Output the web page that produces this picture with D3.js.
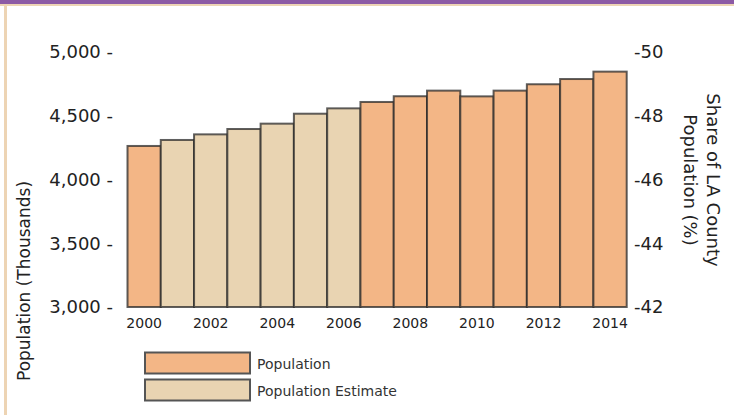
<!DOCTYPE html>
<meta charset="utf-8">
<head>
    <title>Population and Share of LA County</title>
</head>
<style>
body { margin: 0; background: #fff; }
text { font-family: "DejaVu Sans", Verdana, sans-serif; fill: #222; }
</style>

<script src="https://d3js.org/d3.v7.min.js"></script>

<div id="chart"></div>

<script>
// data
var years = [2000, 2001, 2002, 2003, 2004, 2005, 2006, 2007, 2008, 2009, 2010, 2011, 2012, 2013, 2014];
var population = [4263, 4310, 4354, 4396, 4438, 4516, 4558, 4608, 4653, 4697, 4652, 4697, 4747, 4788, 4846];
var kind = ['Population', 'Population Estimate', 'Population Estimate', 'Population Estimate', 'Population Estimate',
            'Population Estimate', 'Population Estimate', 'Population', 'Population', 'Population', 'Population',
            'Population', 'Population', 'Population', 'Population'];
var leftTicks = [3000, 3500, 4000, 4500, 5000];
var rightTicks = [42, 44, 46, 48, 50];
var xLabels = [2000, 2002, 2004, 2006, 2008, 2010, 2012, 2014];
var legendItems = ['Population', 'Population Estimate'];

var width = 734, height = 415;
var colors = {'Population': '#F3B686', 'Population Estimate': '#E9D4B2'};

var svg = d3.select("#chart")
  .append("svg")
    .attr("width", width)
    .attr("height", height);

// page frame
svg.append("rect").attr("x", 0).attr("y", 0).attr("width", width).attr("height", 4).attr("fill", "#8C5AA5");
svg.append("rect").attr("x", 0).attr("y", 4).attr("width", width).attr("height", 2).attr("fill", "#EDD4B4");
svg.append("rect").attr("x", 4).attr("y", 4).attr("width", 3).attr("height", height).attr("fill", "#EDD4B4");

var x = d3.scaleBand()
    .domain(years)
    .range([127.5, 626.7])
    .padding(0);

var y = d3.scaleLinear()
    .domain([3000, 5000])
    .range([307, 52]);

var y2 = d3.scaleLinear()
    .domain([42, 50])
    .range([307, 52]);

var data = years.map(function(d, i) { return {year: d, value: population[i], kind: kind[i]}; });

// bars
svg.selectAll("bar")
    .data(data)
    .enter()
    .append("rect")
    .attr("x", function(d) { return x(d.year); })
    .attr("y", function(d) { return y(d.value); })
    .attr("width", x.bandwidth())
    .attr("height", function(d) { return y(3000) - y(d.value); })
    .attr("fill", function(d) { return colors[d.kind]; })
    .attr("stroke", "#2a2a2a")
    .attr("stroke-opacity", 0.75)
    .attr("stroke-width", 2);

// left axis (labels carry their own dash)
svg.selectAll("ltick")
    .data(leftTicks)
    .enter()
    .append("text")
    .attr("x", 113)
    .attr("y", function(d) { return y(d); })
    .attr("dy", "0.36em")
    .attr("text-anchor", "end")
    .style("font-size", "18px")
    .text(function(d) { return d3.format(",")(d) + " -"; });

// right axis
svg.selectAll("rtick")
    .data(rightTicks)
    .enter()
    .append("text")
    .attr("x", 634)
    .attr("y", function(d) { return y2(d); })
    .attr("dy", "0.36em")
    .attr("text-anchor", "start")
    .style("font-size", "18px")
    .text(function(d) { return "-" + d; });

// x labels
svg.selectAll("xtick")
    .data(xLabels)
    .enter()
    .append("text")
    .attr("x", function(d) { return x(d) + x.bandwidth() / 2; })
    .attr("y", 328)
    .attr("text-anchor", "middle")
    .style("font-size", "14px")
    .text(function(d) { return d; });

// axis titles
svg.append("text")
    .attr("transform", "translate(30,281)rotate(-90)")
    .attr("text-anchor", "middle")
    .style("font-size", "17px")
    .text("Population (Thousands)");

svg.append("text")
    .attr("transform", "translate(707,180)rotate(90)")
    .attr("text-anchor", "middle")
    .style("font-size", "18px")
    .text("Share of LA County");

svg.append("text")
    .attr("transform", "translate(684,180)rotate(90)")
    .attr("text-anchor", "middle")
    .style("font-size", "18px")
    .text("Population (%)");

// legend
var legend = svg.selectAll("legend")
    .data(legendItems)
    .enter()
    .append("g")
    .attr("transform", function(d, i) { return "translate(145," + (352.5 + i * 27) + ")"; });

legend.append("rect")
    .attr("width", 105)
    .attr("height", 21)
    .attr("fill", function(d) { return colors[d]; })
    .attr("stroke", "#555")
    .attr("stroke-width", 2);

legend.append("text")
    .attr("x", 112)
    .attr("y", 11)
    .attr("dy", "0.36em")
    .style("font-size", "14px")
    .style("fill", "#333")
    .text(function(d) { return d; });
</script>
